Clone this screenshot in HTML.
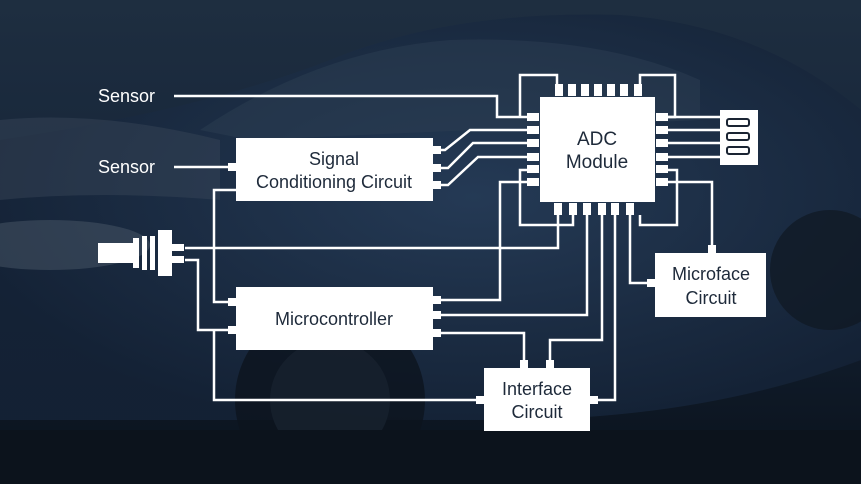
<!DOCTYPE html>
<html><head><meta charset="utf-8"><style>
html,body{margin:0;padding:0;width:861px;height:484px;overflow:hidden;background:#0f1a28}
svg{display:block}
text{font-family:"Liberation Sans",sans-serif;}
</style></head><body>
<svg width="861" height="484" viewBox="0 0 861 484">
<defs>
<linearGradient id="bg" x1="0" y1="0" x2="0" y2="1">
<stop offset="0" stop-color="#1e2e40"/><stop offset="0.4" stop-color="#17263a"/><stop offset="1" stop-color="#0a121c"/>
</linearGradient>
<radialGradient id="car" cx="0.55" cy="0.45" r="0.6">
<stop offset="0" stop-color="#263c58"/><stop offset="1" stop-color="#142236"/>
</radialGradient>
</defs>
<rect width="861" height="484" fill="url(#bg)"/>
<path d="M0 140 Q200 110 330 60 Q450 10 620 15 Q760 25 861 110 L861 360 Q700 420 500 420 L0 420Z" fill="url(#car)" opacity="0.9"/>
<path d="M200 130 Q320 50 450 40 Q600 35 700 80 L700 120 L250 140Z" fill="#2c3e52" opacity="0.5"/>
<path d="M0 120 Q100 110 220 140 L220 200 Q100 190 0 200Z" fill="#3a4858" opacity="0.45"/>
<ellipse cx="50" cy="245" rx="100" ry="25" fill="#4a5868" opacity="0.5"/>
<circle cx="330" cy="400" r="95" fill="#0c141e" opacity="0.8"/>
<circle cx="330" cy="400" r="60" fill="#18222e" opacity="0.8"/>
<circle cx="830" cy="270" r="60" fill="#0f1822" opacity="0.7"/>
<rect x="0" y="430" width="861" height="54" fill="#0c131c"/>

<g stroke="#fff" stroke-width="2.5" fill="none">
<path d="M174 96 H497 V117 H527"/>
<path d="M174 167 H236"/>
<path d="M433 150 L445 150 L470 130 H527"/>
<path d="M433 168 L448 168 L473 143 H527"/>
<path d="M433 185 L448 185 L478 157 H527"/>
<path d="M236 190 H214 V302 H236"/>
<path d="M185 248 H558 V215"/>
<path d="M185 260 H198 V330 H236"/>
<path d="M214 330 V400 H484"/>
<path d="M433 300 H500 V182 H527"/>
<path d="M433 315 H587 V215"/>
<path d="M433 333 H524 V360"/>
<path d="M550 360 V340 H602 V215"/>
<path d="M590 400 H615 V215"/>
<path d="M630 215 V283 H655"/>
<path d="M527 170 H520 V225 H573 V215"/>
<path d="M520 117 V75 H557 V84"/>
<path d="M640 84 V75 H675 V117 H668"/>
<path d="M668 117 H720"/><path d="M668 130 H720"/><path d="M668 143 H720"/><path d="M668 157 H720"/>
<path d="M668 170 H677 V225 H640 V215"/>
<path d="M668 182 H712 V253"/>
</g>
<g fill="#fff">
<rect x="540" y="97" width="115" height="105"/>
<rect x="555" y="84" width="8" height="12"/><rect x="568" y="84" width="8" height="12"/><rect x="581" y="84" width="8" height="12"/><rect x="594" y="84" width="8" height="12"/><rect x="607" y="84" width="8" height="12"/><rect x="620" y="84" width="8" height="12"/><rect x="634" y="84" width="8" height="12"/>
<rect x="554" y="203" width="8" height="12"/><rect x="569" y="203" width="8" height="12"/><rect x="583" y="203" width="8" height="12"/><rect x="598" y="203" width="8" height="12"/><rect x="611" y="203" width="8" height="12"/><rect x="626" y="203" width="8" height="12"/>
<rect x="527" y="113" width="12" height="8"/><rect x="527" y="126" width="12" height="8"/><rect x="527" y="139" width="12" height="8"/><rect x="527" y="153" width="12" height="8"/><rect x="527" y="165" width="12" height="8"/><rect x="527" y="178" width="12" height="8"/>
<rect x="656" y="113" width="12" height="8"/><rect x="656" y="126" width="12" height="8"/><rect x="656" y="139" width="12" height="8"/><rect x="656" y="153" width="12" height="8"/><rect x="656" y="165" width="12" height="8"/><rect x="656" y="178" width="12" height="8"/>
<rect x="720" y="110" width="38" height="55"/>
<rect x="236" y="138" width="197" height="63"/>
<rect x="236" y="287" width="197" height="63"/>
<rect x="484" y="368" width="106" height="63"/>
<rect x="655" y="253" width="111" height="64"/>
<rect x="228" y="163" width="8" height="8"/>
<rect x="433" y="146" width="8" height="8"/><rect x="433" y="164" width="8" height="8"/><rect x="433" y="181" width="8" height="8"/>
<rect x="228" y="298" width="8" height="8"/><rect x="228" y="326" width="8" height="8"/>
<rect x="433" y="296" width="8" height="8"/><rect x="433" y="311" width="8" height="8"/><rect x="433" y="329" width="8" height="8"/>
<rect x="520" y="360" width="8" height="8"/><rect x="546" y="360" width="8" height="8"/>
<rect x="476" y="396" width="8" height="8"/><rect x="590" y="396" width="8" height="8"/>
<rect x="708" y="245" width="8" height="8"/><rect x="647" y="279" width="8" height="8"/>
<rect x="98" y="243" width="35" height="20"/>
<rect x="133" y="238" width="6" height="30"/><rect x="142" y="236" width="5" height="34"/><rect x="150" y="236" width="5" height="34"/>
<rect x="158" y="230" width="14" height="46"/>
<rect x="172" y="244" width="12" height="7"/><rect x="172" y="256" width="12" height="7"/>
</g>
<g fill="#fff" stroke="#1a2433" stroke-width="2">
<rect x="727" y="119" width="22" height="7" rx="2"/>
<rect x="727" y="133" width="22" height="7" rx="2"/>
<rect x="727" y="147" width="22" height="7" rx="2"/>
</g>
<g fill="#1e2a3a" text-anchor="middle" font-size="19">
<text x="597" y="145">ADC</text><text x="597" y="168">Module</text>
<text x="334" y="165" font-size="18">Signal</text><text x="334" y="188" font-size="18">Conditioning Circuit</text>
<text x="334" y="325" font-size="18">Microcontroller</text>
<text x="537" y="395" font-size="18">Interface</text><text x="537" y="418" font-size="18">Circuit</text>
<text x="711" y="280" font-size="18">Microface</text><text x="711" y="304" font-size="18">Circuit</text>
</g>
<g fill="#fff" font-size="18">
<text x="98" y="102">Sensor</text><text x="98" y="173">Sensor</text>
</g>
</svg>
</body></html>
